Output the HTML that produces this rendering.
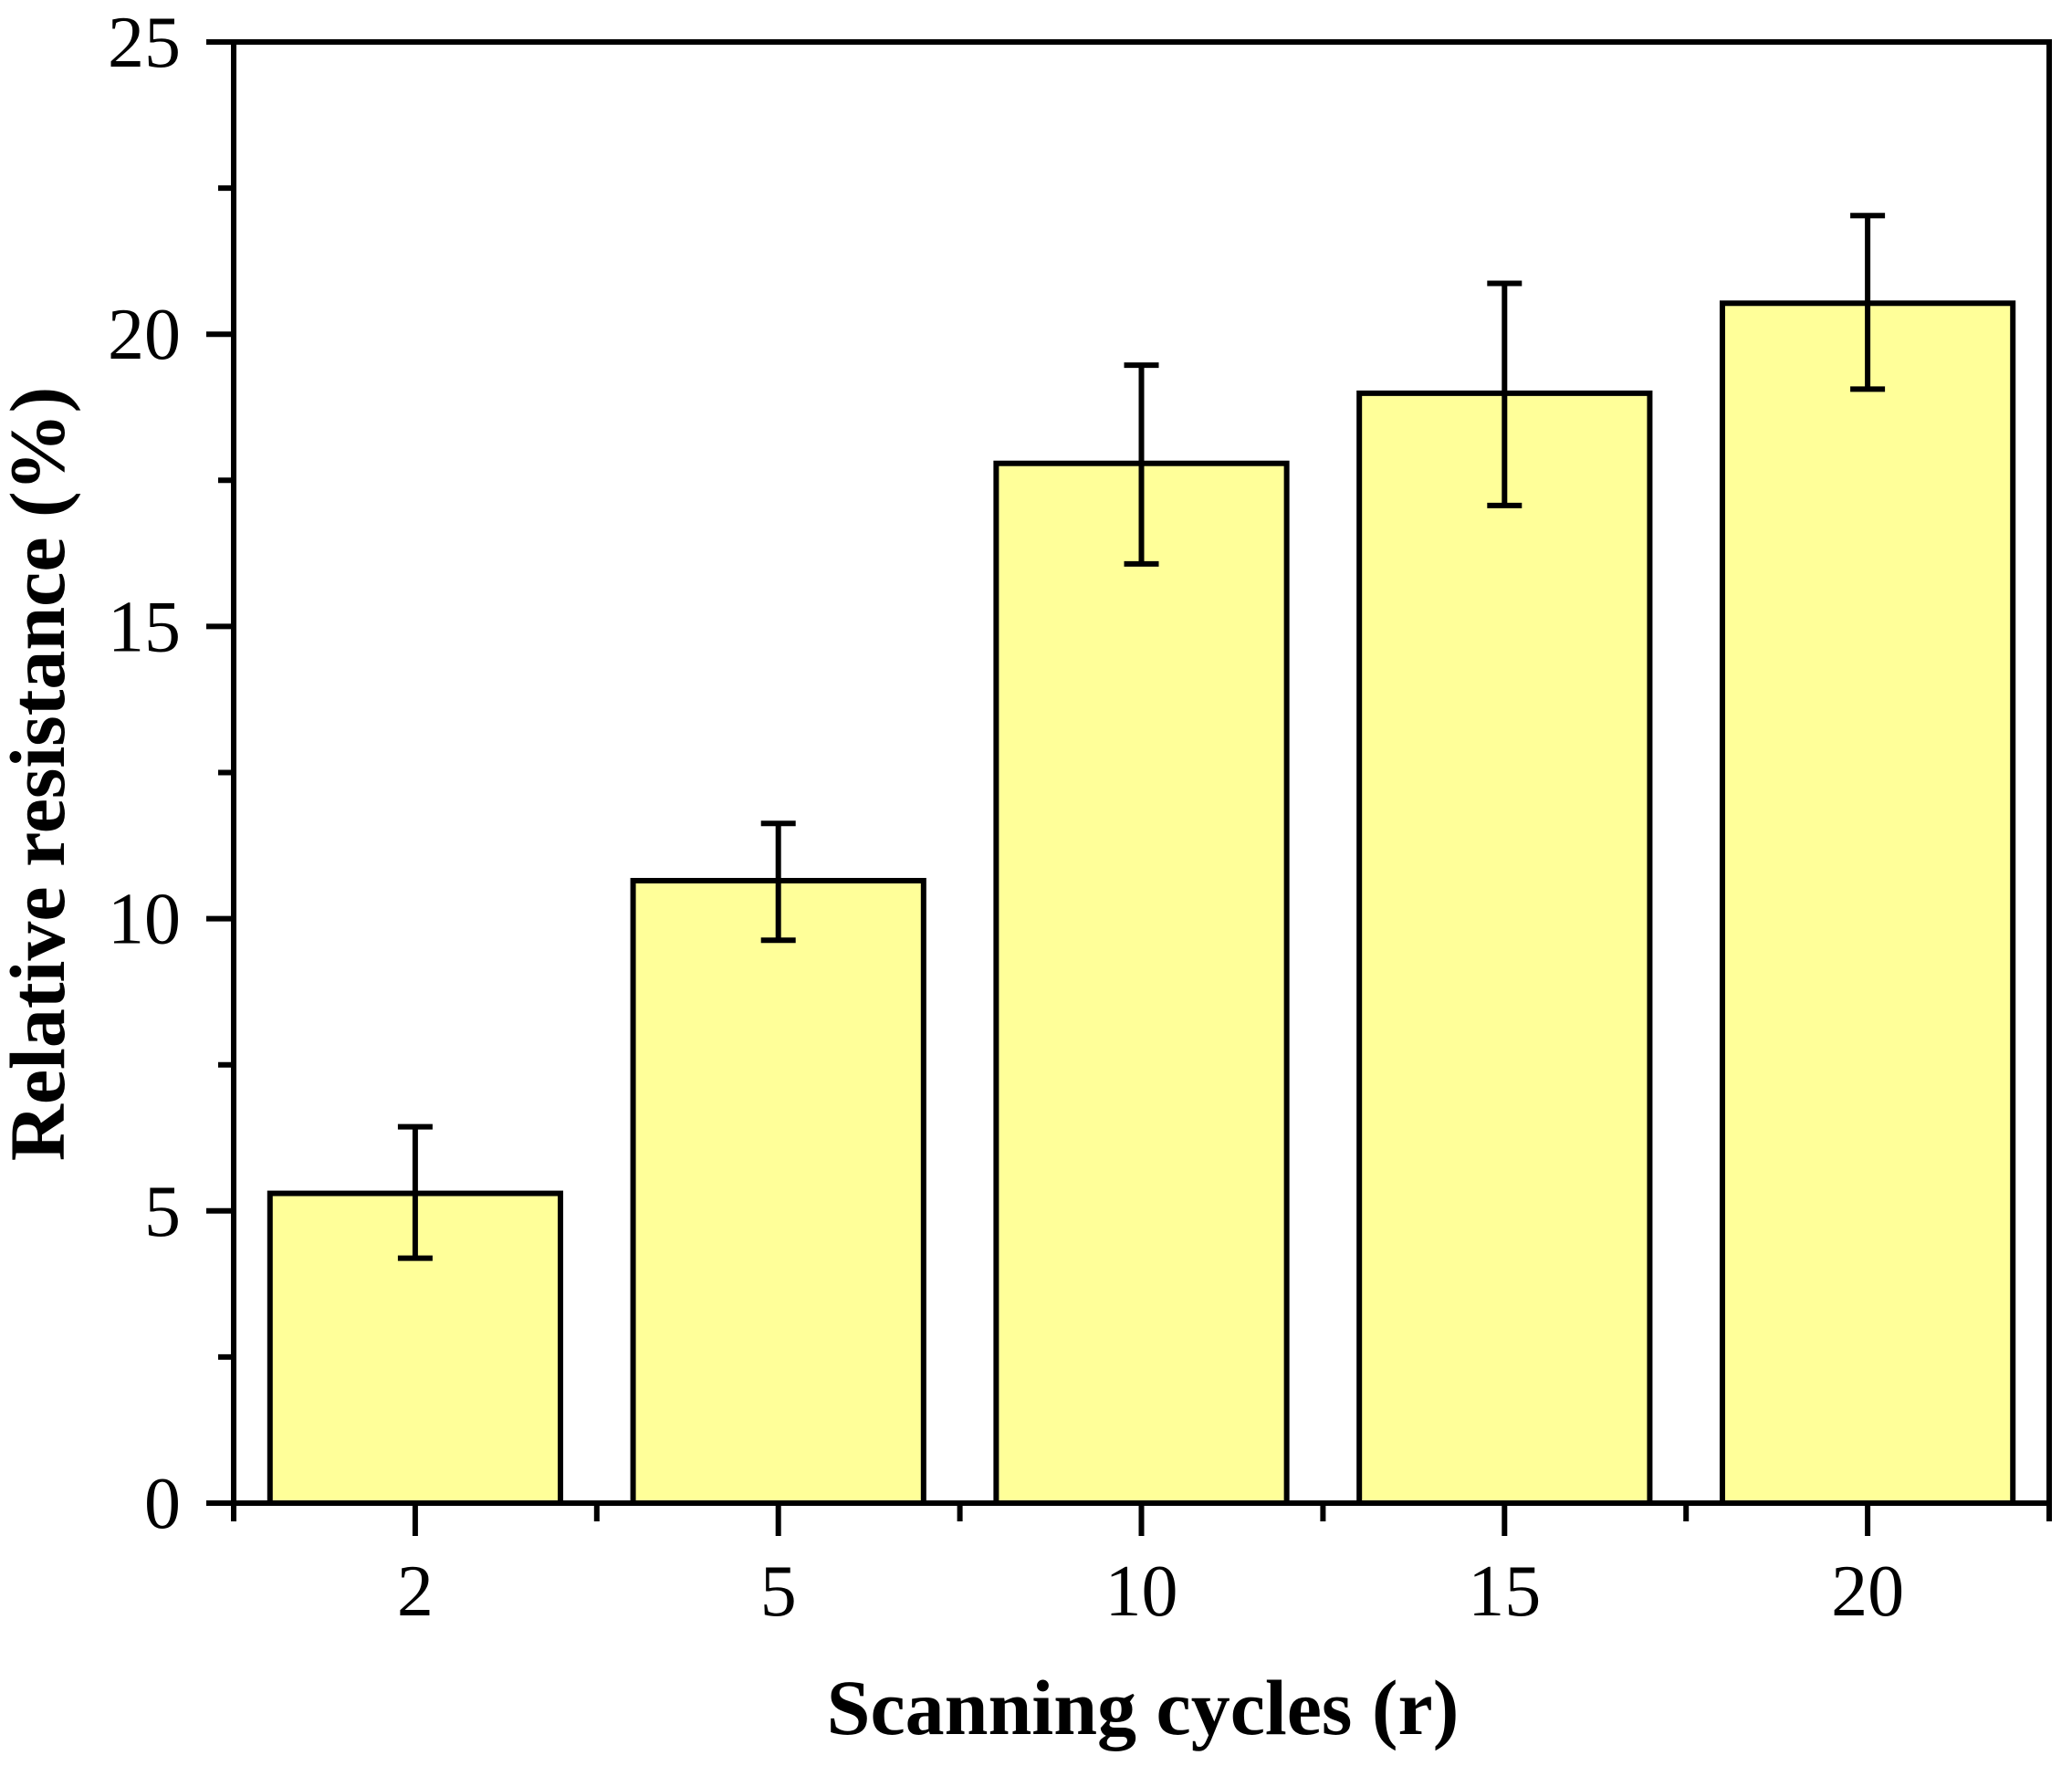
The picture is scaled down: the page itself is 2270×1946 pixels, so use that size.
<!DOCTYPE html>
<html><head><meta charset="utf-8"><style>
html,body{margin:0;padding:0;background:#fff;}
svg{display:block;font-family:"Liberation Serif",serif;}
</style></head><body>
<svg id="chart" width="2270" height="1946" viewBox="0 0 2270 1946" xmlns="http://www.w3.org/2000/svg">
<g id="plot"></g>
<text transform="translate(70,848) rotate(-90)" text-anchor="middle" font-size="86" font-weight="bold">Relative resistance (%)</text>
<text x="1252" y="1900" text-anchor="middle" font-size="86" font-weight="bold">Scanning cycles (r)</text>
</svg>
<script>
const categories = ["2", "5", "10", "15", "20"];
const values = [5.30, 10.65, 17.79, 18.99, 20.53];
const errUpper = [6.44, 11.63, 19.47, 20.87, 22.03];
const errLower = [4.19, 9.63, 16.07, 17.07, 19.06];
const yTicks = [0, 5, 10, 15, 20, 25];
const yTickLabels = ["0", "5", "10", "15", "20", "25"];

const L = 256, R = 2245, T = 46, B = 1647, yMax = 25;
const NS = "http://www.w3.org/2000/svg";
const g = document.getElementById('plot');
const step = (R - L) / categories.length;
function xc(i) { return L + step * (i + 0.5); }
function yv(v) { return B - (v / yMax) * (B - T); }
function mk(tag, attrs) { const e = document.createElementNS(NS, tag); for (const k in attrs) e.setAttribute(k, attrs[k]); g.appendChild(e); return e; }

categories.forEach((c, i) => {
  const bw = step * 0.8;
  const r = mk('rect', {x: xc(i) - bw / 2, y: yv(values[i]), width: bw, height: B - yv(values[i]), fill: '#ffff99', stroke: '#000', 'stroke-width': 6});
  
  
  const e = mk('path', {d: `M${xc(i)},${yv(errUpper[i])}V${yv(errLower[i])}M${xc(i)-19},${yv(errUpper[i])}H${xc(i)+19}M${xc(i)-19},${yv(errLower[i])}H${xc(i)+19}`, stroke: '#000', 'stroke-width': 6, fill: 'none'});
  
  
  const t = mk('text', {x: xc(i), y: 1770, 'text-anchor': 'middle', 'font-size': 80});
  t.textContent = c;
  
  
  const tk = mk('line', {x1: xc(i), x2: xc(i), y1: B, y2: B + 36, stroke: '#000', 'stroke-width': 6});
  
  
});
for (let i = 0; i <= categories.length; i++) {
  const x = L + step * i;
  const m = mk('line', {x1: x, x2: x, y1: B, y2: B + 20, stroke: '#000', 'stroke-width': 6});
  
  
}
yTicks.forEach((v, i) => {
  const tk = mk('line', {x1: L - 30, x2: L, y1: yv(v), y2: yv(v), stroke: '#000', 'stroke-width': 6});
  
  
  const t = mk('text', {x: 198, y: yv(v) + 27, 'text-anchor': 'end', 'font-size': 80});
  t.textContent = yTickLabels[i];
  
  
  if (i < yTicks.length - 1) {
    const m = mk('line', {x1: L - 17, x2: L, y1: yv(v + 2.5), y2: yv(v + 2.5), stroke: '#000', 'stroke-width': 6});
    
    
  }
});
const frame = mk('rect', {x: L, y: T, width: R - L, height: B - T, fill: 'none', stroke: '#000', 'stroke-width': 6});


</script>
</body></html>
